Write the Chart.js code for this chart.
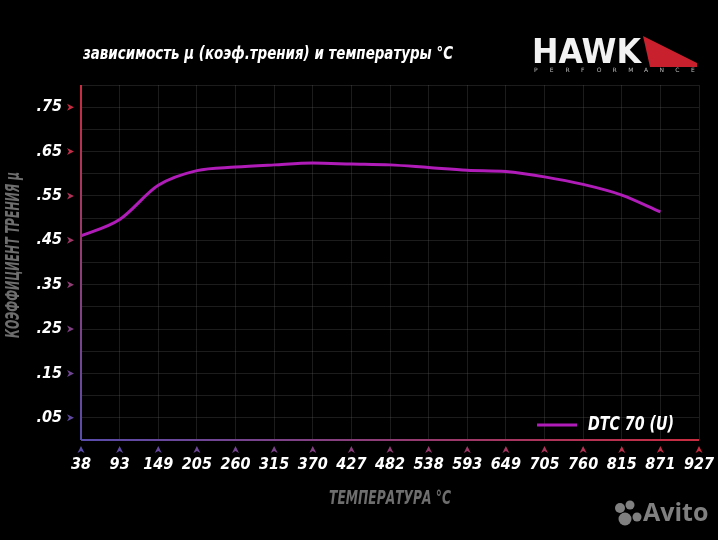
<!DOCTYPE html>
<html>
<head>
<meta charset="utf-8">
<script src="https://cdn.jsdelivr.net/npm/chart.js@4.4.1/dist/chart.umd.min.js"></script>
<style>
  html, body { margin: 0; padding: 0; background: #000; }
  #wrap { width: 718px; height: 540px; position: relative; }
</style>
</head>
<body>
<div id="wrap"><canvas id="grafico" width="718" height="540"></canvas></div>
<script>
// Dados do gráfico
const temperaturas = ['38', '93', '149', '205', '260', '315', '370', '427', '482', '538', '593', '649', '705', '760', '815', '871', '927'];
const atrito = [0.46, 0.497, 0.574, 0.607, 0.615, 0.620, 0.624, 0.622, 0.620, 0.614, 0.608, 0.605, 0.593, 0.576, 0.552, 0.514, null];
const nomeSerie = 'DTC 70 (U)';
const titulo = 'зависимость μ (коэф.трения) и температуры °C';
const tituloX = 'ТЕМПЕРАТУРА °C';
const tituloY = 'КОЭФФИЦИЕНТ ТРЕНИЯ μ';

const fonte = '"DejaVu Sans", sans-serif';
const corLinha = '#b01cb8';

function misturar(t) {
  // azul -> vermelho
  const a = [88, 76, 170], b = [200, 44, 64];
  const c = a.map((v, i) => Math.round(v + (b[i] - v) * t));
  return `rgb(${c[0]},${c[1]},${c[2]})`;
}

// texto ajustado a uma largura
function textoLargura(ctx, txt, x, y, largura) {
  const w = ctx.measureText(txt).width;
  const k = largura / w;
  ctx.save();
  ctx.translate(x, y);
  ctx.scale(k, 1);
  ctx.fillText(txt, 0, 0);
  ctx.restore();
}

const extras = {
  id: 'extras',
  afterDraw(chart) {
    const ctx = chart.ctx;
    const area = chart.chartArea;
    const x = chart.scales.x, y = chart.scales.y;
    ctx.save();

    // eixos com gradiente
    let g = ctx.createLinearGradient(0, area.top, 0, area.bottom);
    g.addColorStop(0, misturar(1));
    g.addColorStop(1, misturar(0));
    ctx.strokeStyle = g;
    ctx.lineWidth = 2;
    ctx.beginPath();
    ctx.moveTo(area.left, area.top);
    ctx.lineTo(area.left, area.bottom);
    ctx.stroke();
    g = ctx.createLinearGradient(area.left, 0, area.right, 0);
    g.addColorStop(0, misturar(0));
    g.addColorStop(1, misturar(1));
    ctx.strokeStyle = g;
    ctx.beginPath();
    ctx.moveTo(area.left, area.bottom);
    ctx.lineTo(area.right, area.bottom);
    ctx.stroke();

    // setinhas do eixo Y
    y.ticks.forEach(t => {
      if (Math.round(t.value * 100) % 10 !== 5) return;
      const py = y.getPixelForValue(t.value);
      ctx.fillStyle = misturar(Math.min(1, t.value / 0.7));
      ctx.beginPath();
      ctx.moveTo(67, py - 3.5);
      ctx.lineTo(74, py);
      ctx.lineTo(67, py + 3.5);
      ctx.lineTo(69, py);
      ctx.closePath();
      ctx.fill();
    });
    // setinhas do eixo X
    temperaturas.forEach((t, i) => {
      const px = x.getPixelForValue(i);
      ctx.fillStyle = misturar(i / (temperaturas.length - 1));
      ctx.beginPath();
      ctx.moveTo(px - 3.5, area.bottom + 13);
      ctx.lineTo(px, area.bottom + 6);
      ctx.lineTo(px + 3.5, area.bottom + 13);
      ctx.lineTo(px, area.bottom + 11);
      ctx.closePath();
      ctx.fill();
    });

    // títulos
    ctx.fillStyle = '#ffffff';
    ctx.font = `italic bold 17px ${fonte}`;
    ctx.textBaseline = 'middle';
    ctx.textAlign = 'left';
    textoLargura(ctx, titulo, 83, 55, 370);

    ctx.fillStyle = '#6e6e6e';
    ctx.font = `italic bold 19px ${fonte}`;
    textoLargura(ctx, tituloX, 329, 499, 122);

    ctx.save();
    ctx.translate(14, 338);
    ctx.rotate(-Math.PI / 2);
    ctx.font = `italic bold 19px ${fonte}`;
    textoLargura(ctx, tituloY, 0, 0, 166);
    ctx.restore();

    // legenda
    ctx.strokeStyle = corLinha;
    ctx.lineWidth = 3;
    ctx.beginPath();
    ctx.moveTo(537, 425);
    ctx.lineTo(577, 425);
    ctx.stroke();
    ctx.fillStyle = '#ffffff';
    ctx.font = `italic bold 20px ${fonte}`;
    textoLargura(ctx, nomeSerie, 588, 425, 86);

    // logo HAWK
    ctx.fillStyle = '#c8202c';
    ctx.beginPath();
    ctx.moveTo(643, 36);
    ctx.lineTo(697, 63);
    ctx.lineTo(697, 67);
    ctx.lineTo(650, 67);
    ctx.closePath();
    ctx.fill();
    ctx.fillStyle = '#f2f2f2';
    ctx.font = `900 34px ${fonte}`;
    ctx.textBaseline = 'alphabetic';
    textoLargura(ctx, 'HAWK', 532, 63, 109);
    ctx.fillStyle = '#bbbbbb';
    ctx.font = `6px ${fonte}`;
    'PERFORMANCE'.split('').forEach((l, i) => ctx.fillText(l, 534 + i * 15.7, 72));

    // marca d'água
    ctx.fillStyle = 'rgba(150,150,150,0.85)';
    [[620, 508, 5], [630, 505, 4.5], [625, 519, 6.5], [637, 517, 4.5]].forEach(c => {
      ctx.beginPath();
      ctx.arc(c[0], c[1], c[2], 0, Math.PI * 2);
      ctx.fill();
    });
    ctx.font = `bold 25px "Open Sans", sans-serif`;
    ctx.textBaseline = 'middle';
    ctx.fillText('Avito', 643, 514);

    ctx.restore();
  }
};

const fonteTicks = { family: fonte, size: 16, style: 'italic', weight: 'bold condensed' };

const ctx = document.getElementById('grafico').getContext('2d');
new Chart(ctx, {
  type: 'line',
  data: {
    labels: temperaturas,
    datasets: [{
      label: nomeSerie,
      data: atrito,
      borderColor: corLinha,
      borderWidth: 3,
      pointRadius: 0,
      tension: 0.4,
      cubicInterpolationMode: 'monotone',
      spanGaps: false
    }]
  },
  options: {
    responsive: false,
    animation: false,
    layout: { padding: { top: 85, right: 19, left: 0, bottom: 0 } },
    plugins: { legend: { display: false }, tooltip: { enabled: false } },
    scales: {
      x: {
        offset: false,
        border: { display: false },
        grid: { color: 'rgba(110,110,110,0.25)', borderDash: [1, 3], drawTicks: false },
        ticks: {
          color: '#ffffff',
          font: fonteTicks,
          padding: 15,
          maxRotation: 0,
          autoSkip: false
        },
        afterFit(s) {
          s.height = 100;
          s.paddingLeft = 0;
          s.paddingRight = 0;
        }
      },
      y: {
        min: 0,
        max: 0.8,
        border: { display: false },
        grid: { color: 'rgba(110,110,110,0.25)', borderDash: [1, 3], drawTicks: false },
        ticks: {
          stepSize: 0.05,
          autoSkip: false,
          color: '#ffffff',
          padding: 19,
          font: fonteTicks,
          callback(v) {
            const c = Math.round(v * 100);
            if (c % 10 !== 5) return '';
            return '.' + String(c).padStart(2, '0');
          }
        },
        afterFit(s) { s.width = 81; }
      }
    }
  },
  plugins: [extras]
});
</script>
</body>
</html>
